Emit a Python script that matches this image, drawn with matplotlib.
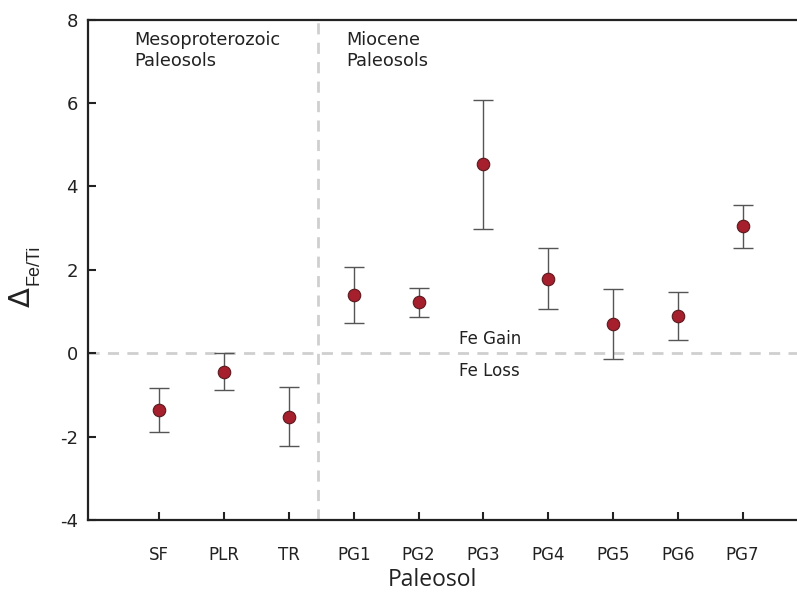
import matplotlib
matplotlib.use("Agg")
import matplotlib.pyplot as plt
import numpy as np

categories = ["SF", "PLR", "TR", "PG1", "PG2", "PG3", "PG4", "PG5", "PG6", "PG7"]
values = [-1.36, -0.45, -1.53, 1.40, 1.23, 4.53, 1.79, 0.70, 0.89, 3.05]
err_upper = [-0.84, 0.00, -0.82, 2.06, 1.57, 6.08, 2.53, 1.53, 1.46, 3.56]
err_lower = [-1.89, -0.89, -2.22, 0.73, 0.87, 2.98, 1.05, -0.14, 0.31, 2.53]
y_ticks = [-4, -2, 0, 2, 4, 6, 8]

plt.rcParams['font.family'] = ['DejaVu Sans']

fig = plt.figure(figsize=(7.97, 5.94), dpi=100)
ax = fig.add_axes([0.1098, 0.1246, 0.8902, 0.967 - 0.1246])

x = np.arange(len(categories))
vals = np.array(values)
yerr = np.vstack([vals - np.array(err_lower), np.array(err_upper) - vals])

ax.axhline(0, color="#cfcfcf", lw=2, ls=(0, (4, 3)), zorder=1)
ax.axvline(2.45, color="#cfcfcf", lw=2, ls=(0, (4, 3)), zorder=1)

ax.errorbar(x, vals, yerr=yerr, fmt="none", ecolor="#555555", elinewidth=1.0,
            capsize=7, capthick=1.0, zorder=2)
ax.plot(x, vals, "o", ms=9, mfc="#a51f2d", mec="#5a1a1f", mew=0.8, zorder=3)

ax.set_xlim(-1.108, 9.84)
ax.set_ylim(-4, 8)
ax.set_yticks(y_ticks)
ax.set_yticklabels([str(t) for t in y_ticks], fontsize=13)
ax.set_xticks(x)
ax.set_xticklabels(categories, fontsize=12)

ax.tick_params(axis="both", direction="in", length=6, width=1.5, color="#222222",
               labelcolor="#222222")
ax.tick_params(axis="x", pad=19)
ax.tick_params(axis="y", pad=7)
ax.spines["right"].set_visible(False)
for s in ["left", "top", "bottom"]:
    ax.spines[s].set_linewidth(1.6)
    ax.spines[s].set_color("#222222")

txtc = "#222222"
ax.text(0.066, 0.977, "Mesoproterozoic\nPaleosols", transform=ax.transAxes,
        fontsize=12.8, va="top", ha="left", color=txtc, linespacing=1.2)
ax.text(0.365, 0.977, "Miocene\nPaleosols", transform=ax.transAxes,
        fontsize=12.8, va="top", ha="left", color=txtc, linespacing=1.2)
ax.text(5.1, 0.33, "Fe Gain", fontsize=12, ha="center", va="center", color=txtc)
ax.text(5.1, -0.42, "Fe Loss", fontsize=12, ha="center", va="center", color=txtc)

fig.text(432 / 797, 1 - 580 / 594, "Paleosol", fontsize=16.5, ha="center", va="center",
         family=["Open Sans", "DejaVu Sans"], color=txtc)
fig.text(22 / 797, 1 - 297 / 594, "\u0394", fontsize=21, rotation=90,
         ha="center", va="center", color=txtc)
fig.text(34 / 797, 1 - 265 / 594, "Fe/Ti", fontsize=13, rotation=90,
         ha="center", va="center", color=txtc, family=["Liberation Sans", "DejaVu Sans"])

fig.savefig("out.png", dpi=100)
